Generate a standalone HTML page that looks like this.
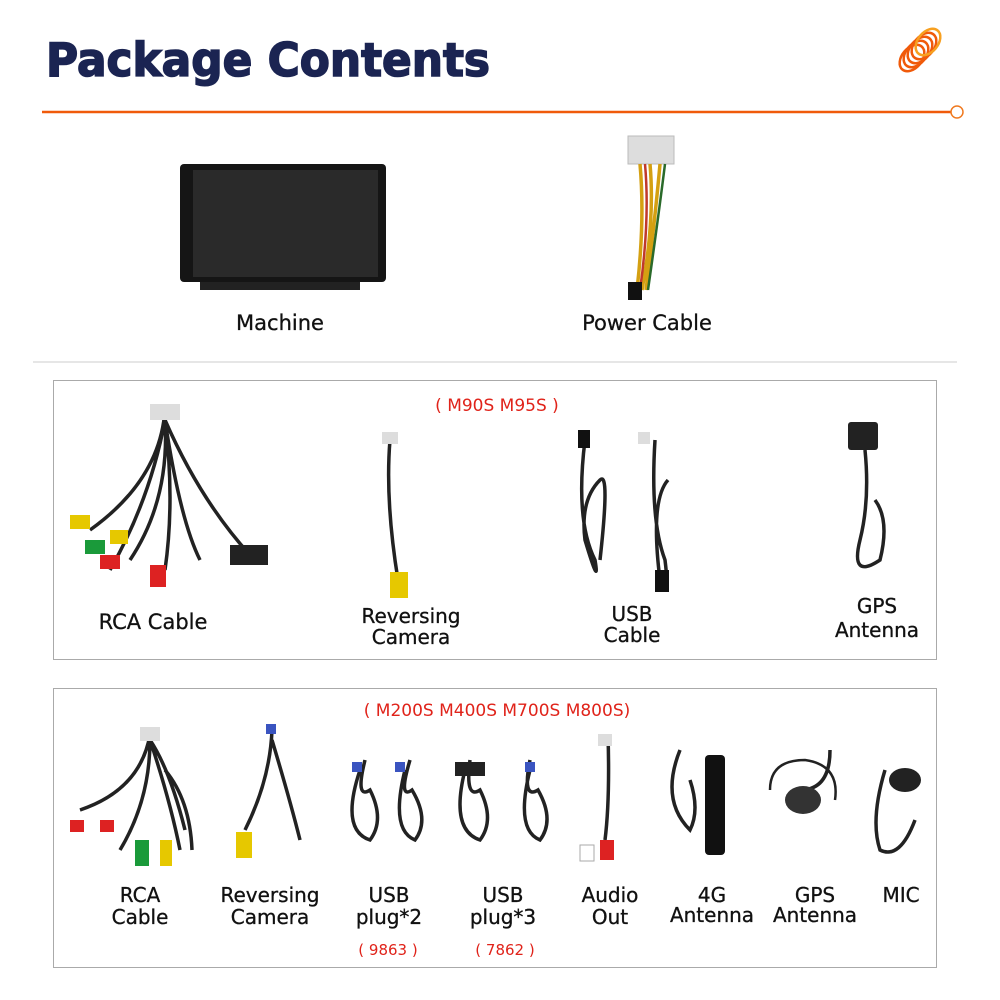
<!DOCTYPE html>
<html><head><meta charset="utf-8"><style>
html,body{margin:0;padding:0;background:#fff;}
svg{display:block}
text{font-family:"DejaVu Sans","Liberation Sans",sans-serif;}
</style></head><body>
<svg width="1000" height="1000" viewBox="0 0 1000 1000" xmlns="http://www.w3.org/2000/svg">
<rect width="1000" height="1000" fill="#fff"/>
<text x="46" y="76" font-size="46" font-weight="bold" fill="#1b2452" stroke="#1b2452" stroke-width="1.6" textLength="444" lengthAdjust="spacingAndGlyphs">Package Contents</text>
<g fill="none" stroke="#f05a0a" stroke-width="2.5">
<ellipse cx="912" cy="58" rx="10" ry="15" transform="rotate(40 912 58)"/>
<ellipse cx="916" cy="54" rx="10" ry="15" transform="rotate(40 916 54)"/>
<ellipse cx="920" cy="50" rx="10" ry="15" transform="rotate(40 920 50)"/>
<ellipse cx="924" cy="46" rx="10" ry="15" transform="rotate(40 924 46)"/>
<ellipse cx="928" cy="42" rx="10" ry="15" transform="rotate(40 928 42)" stroke="#f7a020"/>
</g>
<line x1="42" y1="112" x2="951" y2="112" stroke="#f05a0a" stroke-width="2.5"/>
<circle cx="957" cy="112" r="6" fill="#fff" stroke="#f07a20" stroke-width="1.5"/>
<rect x="180" y="164" width="206" height="118" rx="4" fill="#151515"/>
<rect x="193" y="170" width="185" height="107" fill="#2a2a2a"/>
<rect x="200" y="282" width="160" height="8" fill="#222"/>
<text x="280" y="330" font-size="21" text-anchor="middle" fill="#111" stroke="#111" stroke-width="0.3">Machine</text>
<rect x="628" y="136" width="46" height="28" fill="#ddd" stroke="#bbb"/>
<path d="M640 164 Q645 220 637 290 M650 164 Q655 220 642 290 M660 164 Q655 220 646 290" stroke="#d4a012" stroke-width="3.5" fill="none"/>
<path d="M645 164 Q650 220 640 290" stroke="#c0392b" stroke-width="2.5" fill="none"/>
<path d="M665 164 Q658 220 648 290" stroke="#2a6a2a" stroke-width="2.5" fill="none"/>
<rect x="628" y="282" width="14" height="18" fill="#111"/>
<text x="647" y="330" font-size="21" text-anchor="middle" fill="#111" stroke="#111" stroke-width="0.3">Power Cable</text>
<line x1="33" y1="362" x2="957" y2="362" stroke="#ccc" stroke-width="1"/>
<rect x="53.5" y="380.5" width="883" height="279" fill="none" stroke="#aaa"/>
<text x="497" y="411" font-size="17" text-anchor="middle" fill="#e0231a">( M90S M95S )</text>
<g stroke="#222" stroke-width="3.5" fill="none">
<path d="M165 410 Q160 480 90 530 M165 420 Q170 500 130 560 M165 420 Q200 500 250 555 M165 420 Q150 500 110 570 M165 420 Q180 520 200 560 M165 420 Q175 500 165 570"/>
<path d="M390 440 Q385 500 398 580"/>
<path d="M585 440 Q575 520 595 560 Q600 590 585 540 Q580 500 600 480 Q610 470 600 560 M655 440 Q650 520 665 560 Q670 600 660 580 Q650 500 668 480"/>
<path d="M865 450 Q870 500 860 540 Q850 580 880 560 Q890 520 875 500"/>
</g>
<rect x="150" y="404" width="30" height="16" fill="#ddd"/>
<rect x="70" y="515" width="20" height="14" fill="#e6c800"/><rect x="85" y="540" width="20" height="14" fill="#1a9a3a"/><rect x="100" y="555" width="20" height="14" fill="#d22"/><rect x="150" y="565" width="16" height="22" fill="#d22"/><rect x="110" y="530" width="18" height="14" fill="#e6c800"/>
<rect x="230" y="545" width="38" height="20" fill="#222"/>
<rect x="382" y="432" width="16" height="12" fill="#ddd"/>
<rect x="390" y="572" width="18" height="26" fill="#e6c800"/>
<rect x="578" y="430" width="12" height="18" fill="#111"/><rect x="638" y="432" width="12" height="12" fill="#ddd"/>
<rect x="655" y="570" width="14" height="22" fill="#111"/>
<rect x="848" y="422" width="30" height="28" rx="3" fill="#222"/>
<g fill="#111" stroke="#111" stroke-width="0.3" text-anchor="middle">
<text x="153" y="629" font-size="21">RCA Cable</text>
<text x="411" y="623" font-size="20">Reversing</text>
<text x="411" y="644" font-size="20">Camera</text>
<text x="632" y="621" font-size="20">USB</text>
<text x="632" y="642" font-size="20">Cable</text>
<text x="877" y="613" font-size="20">GPS</text>
<text x="877" y="637" font-size="20">Antenna</text>
</g>
<rect x="53.5" y="688.5" width="883" height="279" fill="none" stroke="#aaa"/>
<text x="497" y="716" font-size="17" text-anchor="middle" fill="#e0231a">( M200S M400S M700S M800S)</text>
<g stroke="#222" stroke-width="3.5" fill="none">
<path d="M150 735 Q140 790 80 810 M150 740 Q150 800 120 850 M150 740 Q170 800 180 850 M150 740 Q170 770 185 830 M165 770 Q190 800 192 850"/>
<path d="M272 730 Q270 780 245 830 M272 740 Q290 800 300 840"/>
<path d="M360 770 Q340 830 370 840 Q385 820 370 790 Q355 800 365 760 M405 770 Q390 830 415 840 Q430 820 412 790 Q398 800 410 760"/>
<path d="M465 770 Q450 830 480 840 Q495 820 480 790 Q465 800 470 760 M530 770 Q515 830 540 840 Q555 820 538 790 Q522 800 530 760"/>
<path d="M608 735 Q610 800 605 840"/>
<path d="M680 750 Q660 800 690 830 Q700 810 690 780"/>
<path d="M830 750 Q830 790 800 790"/>
<path d="M885 770 Q870 820 880 850 Q900 860 915 820"/>
</g>
<rect x="140" y="727" width="20" height="14" fill="#ddd"/>
<rect x="100" y="820" width="14" height="12" fill="#d22"/><rect x="135" y="840" width="14" height="26" fill="#1a9a3a"/><rect x="160" y="840" width="12" height="26" fill="#e6c800"/><rect x="70" y="820" width="14" height="12" fill="#d22"/>
<rect x="236" y="832" width="16" height="26" fill="#e6c800"/>
<rect x="266" y="724" width="10" height="10" fill="#3a54c0"/>
<rect x="352" y="762" width="10" height="10" fill="#3a54c0"/><rect x="395" y="762" width="10" height="10" fill="#3a54c0"/><rect x="525" y="762" width="10" height="10" fill="#3a54c0"/><rect x="455" y="762" width="30" height="14" fill="#222"/>
<rect x="598" y="734" width="14" height="12" fill="#ddd"/><rect x="600" y="840" width="14" height="20" fill="#d22"/><rect x="580" y="845" width="14" height="16" fill="#fff" stroke="#aaa"/>
<rect x="705" y="755" width="20" height="100" rx="4" fill="#111"/>
<ellipse cx="803" cy="800" rx="18" ry="14" fill="#333"/>
<path d="M770 790 Q770 760 805 760 Q840 765 835 800" stroke="#222" stroke-width="2.5" fill="none"/>
<ellipse cx="905" cy="780" rx="16" ry="12" fill="#222"/>
<g font-size="20" text-anchor="middle" fill="#111" stroke="#111" stroke-width="0.3">
<text x="140" y="902">RCA</text><text x="140" y="924">Cable</text>
<text x="270" y="902">Reversing</text><text x="270" y="924">Camera</text>
<text x="389" y="902">USB</text><text x="389" y="924">plug*2</text>
<text x="503" y="902">USB</text><text x="503" y="924">plug*3</text>
<text x="610" y="902">Audio</text><text x="610" y="924">Out</text>
<text x="712" y="902">4G</text><text x="712" y="922">Antenna</text>
<text x="815" y="902">GPS</text><text x="815" y="922">Antenna</text>
<text x="901" y="902">MIC</text>
</g>
<text x="388" y="955" font-size="15" text-anchor="middle" fill="#e0231a">( 9863 )</text>
<text x="505" y="955" font-size="15" text-anchor="middle" fill="#e0231a">( 7862 )</text>
</svg>
</body></html>
